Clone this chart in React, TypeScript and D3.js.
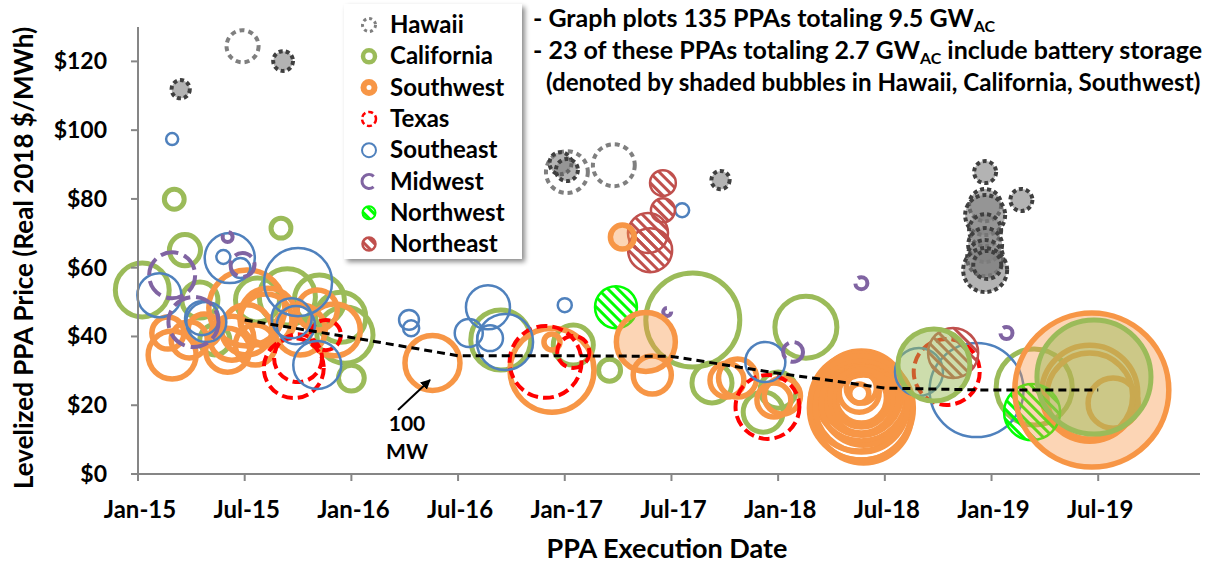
import React from "react";
import * as d3 from "d3";

// [execution date as decimal year, levelized price $/MWh, capacity MW]
type Deal = [number, number, number];

const hawaii: Deal[] = [[2015.49, 124.4, 34], [2017.01, 87.8, 58], [2017.23, 89.8, 58]];
const hawaiiStorage: Deal[] = [
  [2015.2, 111.9, 11], [2015.68, 120.1, 13], [2016.98, 90.4, 16], [2017.01, 88.4, 16],
  [2017.73, 85.5, 11], [2018.97, 87.8, 16], [2019.14, 79.7, 16], [2018.97, 78.2, 34],
  [2018.97, 75.3, 53], [2018.97, 70.9, 34], [2018.97, 66.6, 38], [2018.97, 62.8, 43],
  [2018.97, 59.3, 64], [2018.98, 60.8, 26],
];
const california: Deal[] = [
  [2015.02, 53.5, 96], [2015.22, 65.1, 32], [2015.17, 79.9, 13], [2015.67, 71.5, 13],
  [2015.29, 50.6, 43], [2015.56, 50.6, 64], [2015.7, 51.5, 104], [2015.85, 50.6, 83],
  [2015.95, 45.6, 83], [2015.97, 40.4, 104], [2016.0, 27.9, 22], [2015.36, 39.0, 30],
  [2016.7, 39.0, 119], [2017.04, 37.5, 53], [2017.21, 30.2, 16], [2017.6, 44.8, 292],
  [2017.69, 26.5, 53], [2018.13, 42.7, 127], [2017.93, 18.0, 53], [2018.0, 24.4, 43],
  [2019.2, 25.3, 191],
];
const californiaStorage: Deal[] = [[2018.73, 31.7, 171], [2019.48, 28.2, 430]];
const southwest: Deal[] = [
  [2015.16, 34.6, 76], [2015.14, 41.0, 34], [2015.31, 41.9, 34], [2015.44, 39.5, 64],
  [2015.51, 48.3, 191], [2015.51, 41.9, 83], [2015.42, 36.0, 64], [2015.6, 44.8, 89],
  [2015.61, 45.9, 104], [2015.76, 41.9, 83], [2015.92, 41.9, 89], [2015.84, 47.7, 53],
  [2015.55, 37.5, 53], [2015.24, 39.0, 43], [2016.38, 32.3, 100], [2016.94, 30.2, 233],
  [2016.94, 38.4, 8.5], [2017.41, 28.8, 48], [2017.76, 27.3, 38], [2017.81, 27.9, 48],
  [2017.98, 21.5, 38], [2018.02, 22.7, 43], [2018.39, 22.7, 268], [2018.39, 23.0, 212],
  [2018.39, 21.5, 162], [2018.4, 20.1, 119], [2018.39, 22.1, 83], [2018.38, 23.8, 53],
  [2018.39, 25.0, 30], [2018.39, 18.6, 331], [2018.4, 17.2, 305], [2018.38, 20.9, 317],
  [2018.39, 21.8, 104], [2018.39, 21.2, 135], [2018.39, 22.4, 181], [2018.4, 20.6, 233],
  [2018.39, 19.8, 280], [2018.39, 19.2, 357], [2018.38, 23.4, 12],
  [2019.46, 23.5, 305], [2019.46, 22.7, 244], [2019.57, 20.6, 83],
];
const southwestStorage: Deal[] = [[2017.27, 68.9, 19], [2017.38, 38.4, 115], [2019.47, 24.4, 784]];
const texas: Deal[] = [
  [2015.73, 30.8, 119], [2015.75, 33.7, 76], [2015.88, 40.4, 30], [2016.91, 32.6, 171],
  [2017.04, 35.5, 34], [2017.95, 19.5, 135], [2018.79, 29.7, 144],
];
const southeast: Deal[] = [
  [2015.16, 97.4, 4.8], [2015.1, 52.0, 64], [2015.43, 62.8, 83], [2015.4, 63.1, 6.5],
  [2015.48, 59.9, 13], [2015.32, 44.2, 53], [2015.3, 45.3, 38], [2015.75, 55.8, 153],
  [2015.72, 45.3, 53], [2015.74, 43.3, 48], [2015.84, 31.7, 76], [2016.27, 44.8, 13],
  [2016.28, 42.4, 8.5], [2016.64, 48.5, 64], [2016.55, 41.0, 26], [2016.65, 39.5, 22],
  [2016.72, 38.4, 104], [2017.0, 49.1, 6.5], [2017.55, 76.7, 6.5], [2017.94, 32.6, 53],
  [2018.66, 29.7, 76], [2018.93, 24.4, 292],
];
const midwest: Deal[] = [
  [2015.16, 57.8, 70], [2015.49, 60.8, 19], [2015.42, 68.9, 3.3], [2015.26, 44.2, 83],
  [2017.48, 47.1, 2.1], [2018.07, 35.5, 13], [2018.39, 55.5, 4.8], [2019.07, 41.0, 4.8],
];
const northwest: Deal[] = [[2017.24, 48.5, 58], [2019.19, 18.0, 104]];
const northeast: Deal[] = [
  [2017.46, 84.6, 22], [2017.46, 76.7, 19], [2017.39, 70.1, 53], [2017.4, 65.1, 64],
  [2018.82, 35.2, 83],
];

// half-year medians (dashed trend)
const medianYears = [2015.5, 2016, 2016.5, 2017, 2017.5, 2018, 2018.5, 2019, 2019.5];
const medianPrices = [44.8, 39.7, 34.4, 34.4, 34.2, 29.3, 25.0, 24.4, 24.4];

const xTickYears = [2015, 2015.5, 2016, 2016.5, 2017, 2017.5, 2018, 2018.5, 2019, 2019.5];
const xTickLabels = ["Jan-15", "Jul-15", "Jan-16", "Jul-16", "Jan-17", "Jul-17", "Jan-18", "Jul-18", "Jan-19", "Jul-19"];
const yTicks = [0, 20, 40, 60, 80, 100, 120];
const legendNames = ["Hawaii", "California", "Southwest", "Texas", "Southeast", "Midwest", "Northwest", "Northeast"];

const FONT = "Lato, 'Open Sans', sans-serif";

const styles: Record<string, any> = {
  hawaii: { stroke: "#7f7f7f", sw: 4, dash: "5,4", fill: "none" },
  hawaiiStorage: { stroke: "#3f3f3f", sw: 4, dash: "4,3", fill: "rgba(128,128,128,0.6)" },
  california: { stroke: "#9bbb59", sw: 5, fill: "none" },
  californiaStorage: { stroke: "#9bbb59", sw: 5, fill: "rgba(155,187,89,0.5)" },
  southwest: { stroke: "#f79646", sw: 5.5, fill: "none" },
  southwestStorage: { stroke: "#f79646", sw: 5.5, fill: "rgba(247,150,70,0.4)" },
  texas: { stroke: "#ff0000", sw: 4, dash: "11,5", fill: "none" },
  southeast: { stroke: "#4f81bd", sw: 2.5, fill: "none" },
  midwest: { stroke: "#8064a2", sw: 4, dash: "18,6", fill: "none" },
  northwest: { stroke: "#00ff00", sw: 2.5, fill: "url(#hatchNW)" },
  northeast: { stroke: "#c0504d", sw: 2.5, fill: "url(#hatchNE)" },
};

// drawing order: plain series first, storage (shaded) bubbles on top
const layers: [string, Deal[]][] = [
  ["hawaii", hawaii], ["california", california], ["southwest", southwest], ["texas", texas],
  ["southeast", southeast], ["midwest", midwest], ["northwest", northwest], ["northeast", northeast],
  ["southwestStorage", southwestStorage], ["californiaStorage", californiaStorage], ["hawaiiStorage", hawaiiStorage],
];

const legendKeys = ["hawaii", "california", "southwest", "texas", "southeast", "midwest", "northwest", "northeast"];
const legendMarks: Record<string, any> = {
  hawaii: { r: 6.5, sw: 3, dash: "3,3" },
  california: { r: 6, sw: 4.5 },
  southwest: { r: 5.5, sw: 6 },
  texas: { r: 7, sw: 2.5, dash: "5,3" },
  southeast: { r: 7, sw: 2 },
  midwest: { r: 7, sw: 3, dash: "32,12" },
  northwest: { r: 6.5, sw: 2 },
  northeast: { r: 6.5, sw: 2.5 },
};

export default function App() {
  const width = 1215;
  const height = 565;
  const x = d3.scaleLinear().domain([2015, 2019.977]).range([138, 1200]);
  const y = d3.scaleLinear().domain([0, 130]).range([474, 27]);
  const r = d3.scaleSqrt().domain([0, 100]).range([0, 27.5]);

  const medianLine = d3
    .line<number>()
    .x((d, i) => x(medianYears[i]))
    .y((d) => y(d))(medianPrices);

  return (
    <svg width={width} height={height} style={{ position: "absolute", left: 0, top: 0, background: "#fff" }} fontFamily={FONT}>
      <defs>
        <pattern id="hatchNW" patternUnits="userSpaceOnUse" width="7" height="7" patternTransform="rotate(-45)">
          <rect x="0" y="0" width="3" height="7" fill="#00ff00" />
        </pattern>
        <pattern id="hatchNE" patternUnits="userSpaceOnUse" width="7" height="7" patternTransform="rotate(-45)">
          <rect x="0" y="0" width="3" height="7" fill="#c0504d" />
        </pattern>
        <filter id="shadow" x="-10%" y="-10%" width="130%" height="130%">
          <feDropShadow dx="3" dy="3" stdDeviation="2.5" floodColor="#000" floodOpacity="0.45" />
        </filter>
        <marker id="arrow" viewBox="0 0 10 10" refX="9" refY="5" markerWidth="5" markerHeight="5" orient="auto">
          <path d="M0,0 L10,5 L0,10 z" fill="#000" />
        </marker>
      </defs>

      {/* bubbles */}
      {layers.map(([key, deals]) => {
        const s = styles[key];
        return (
          <g key={key}>
            {deals.map((d, i) => (
              <circle
                key={i}
                cx={x(d[0])}
                cy={y(d[1])}
                r={r(d[2])}
                fill={s.fill}
                stroke={s.stroke}
                strokeWidth={s.sw}
                strokeDasharray={s.dash}
              />
            ))}
          </g>
        );
      })}

      {/* median trend */}
      <path d={medianLine || ""} fill="none" stroke="#000" strokeWidth={3} strokeDasharray="8,5" />

      {/* axes */}
      <g stroke="#868686" strokeWidth={2}>
        <line x1={138} x2={138} y1={y(130)} y2={474} />
        <line x1={138} x2={1200} y1={474} y2={474} />
        {yTicks.map((t) => (
          <line key={t} x1={131} x2={138} y1={y(t)} y2={y(t)} />
        ))}
        {xTickYears.map((t) => (
          <line key={t} x1={x(t)} x2={x(t)} y1={474} y2={481} />
        ))}
      </g>
      <g fontWeight="bold" fill="#000">
        {yTicks.map((t) => (
          <text key={t} x={107} y={y(t) + 8} textAnchor="end" fontSize={23}>
            ${t}
          </text>
        ))}
        {xTickYears.map((t, i) => (
          <text key={t} x={x(t) + 2} y={518} textAnchor="middle" fontSize={24}>
            {xTickLabels[i]}
          </text>
        ))}
      </g>
      <text x={667} y={558} textAnchor="middle" fontSize={27} fontWeight="bold">
        PPA Execution Date
      </text>
      <text transform="translate(33,258) rotate(-90)" textAnchor="middle" fontSize={26} fontWeight="bold">
        Levelized PPA Price (Real 2018 $/MWh)
      </text>

      {/* 100 MW reference */}
      <line x1={398} y1={410} x2={430} y2={380} stroke="#000" strokeWidth={2} markerEnd="url(#arrow)" />
      <text x={407} y={431} textAnchor="middle" fontSize={21} fontWeight="bold">100</text>
      <text x={407} y={459} textAnchor="middle" fontSize={21} fontWeight="bold">MW</text>

      {/* notes */}
      <g fontWeight="bold">
        <text x={533} y={27} fontSize={25}>
          - Graph plots 135 PPAs totaling 9.5 GW<tspan fontSize={16} dy={5}>AC</tspan>
        </text>
        <text x={533} y={59} fontSize={25}>
          - 23 of these PPAs totaling 2.7 GW<tspan fontSize={16} dy={5}>AC</tspan>
          <tspan dy={-5}> include battery storage</tspan>
        </text>
        <text x={546} y={91} fontSize={24.2}>(denoted by shaded bubbles in Hawaii, California, Southwest)</text>
      </g>

      {/* legend */}
      <rect x={344} y={4} width={178} height={255} fill="#fff" filter="url(#shadow)" />
      {legendKeys.map((k, i) => {
        const s = styles[k];
        const m = legendMarks[k];
        const cy = 25 + i * 31.3;
        return (
          <g key={k}>
            <circle
              cx={369}
              cy={cy}
              r={m.r}
              fill={k === "hawaii" ? "none" : s.fill}
              stroke={s.stroke}
              strokeWidth={m.sw}
              strokeDasharray={m.dash}
              transform={k === "midwest" ? `rotate(49,369,${cy})` : undefined}
            />
            <text x={390} y={cy + 8} fontSize={24} fontWeight="bold">
              {legendNames[i]}
            </text>
          </g>
        );
      })}
    </svg>
  );
}
